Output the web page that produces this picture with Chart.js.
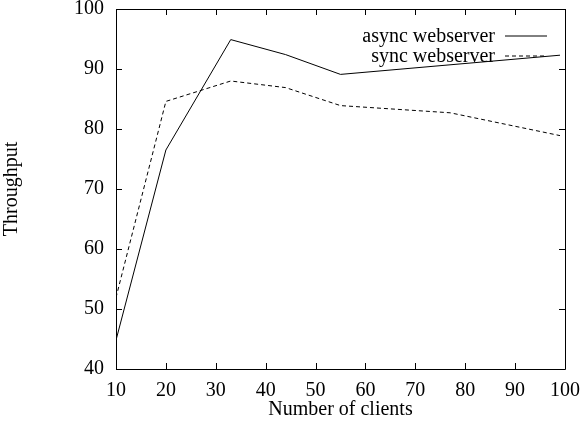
<!DOCTYPE html>
<html>
<head>
<meta charset="UTF-8">
<title>Throughput vs clients</title>
<script src="https://cdn.jsdelivr.net/npm/chart.js"></script>
<style>
  body { margin: 0; padding: 0; background: #fff; }
  #wrap { width: 581px; height: 425px; position: relative; }
</style>
</head>
<body>
<div id="wrap"><canvas id="graph"></canvas></div>
<script>
// data
const clients = [10, 20, 33, 44, 55, 77, 99];
const asyncThroughput = [44.8, 76.5, 94.9, 92.4, 89.1, null, 92.3];
const syncThroughput = [51.9, 84.6, 88.0, 86.9, 83.9, 82.7, 78.9];
const xTicks = [10, 20, 30, 40, 50, 60, 70, 80, 90, 100];
const yTicks = [40, 50, 60, 70, 80, 90, 100];

const font = { family: '"Liberation Serif", "DejaVu Serif", serif', size: 20 };

function pairs(ys) {
  return clients.map((x, i) => ({ x: x, y: ys[i] }));
}

// gnuplot style key: text right-aligned, line sample to its right
const keyPlugin = {
  id: 'key',
  afterDatasetsDraw(chart) {
    const c = chart.ctx;
    const right = chart.chartArea.right;
    c.save();
    c.font = font.size + 'px ' + font.family;
    c.textAlign = 'right';
    c.textBaseline = 'middle';
    c.fillStyle = '#000';
    chart.data.datasets.forEach((ds, i) => {
      const y = 37 + i * 20;
      c.fillText(ds.label, right - 70, y);
      c.beginPath();
      c.strokeStyle = ds.borderColor;
      c.lineWidth = ds.borderWidth;
      c.setLineDash(ds.borderDash || []);
      c.moveTo(right - 60, y - 1);
      c.lineTo(right - 18, y - 1);
      c.stroke();
    });
    c.restore();
  }
};

// box round the plot with inward tick marks on all four sides
const frameTicks = {
  id: 'frameTicks',
  afterDraw(chart) {
    const c = chart.ctx;
    const a = chart.chartArea;
    const xs = chart.scales.x, ys = chart.scales.y;
    const len = 6;
    c.save();
    c.strokeStyle = '#000';
    c.lineWidth = 1;
    c.beginPath();
    c.rect(Math.round(a.left) + 0.5, Math.round(a.top) + 0.5,
           Math.round(a.right - a.left), Math.round(a.bottom - a.top));
    xTicks.forEach(v => {
      const px = Math.round(xs.getPixelForValue(v)) + 0.5;
      c.moveTo(px, a.bottom); c.lineTo(px, a.bottom - len);
      c.moveTo(px, a.top); c.lineTo(px, a.top + len);
    });
    yTicks.forEach(v => {
      const py = Math.round(ys.getPixelForValue(v)) + 0.5;
      c.moveTo(a.left, py); c.lineTo(a.left + len, py);
      c.moveTo(a.right, py); c.lineTo(a.right - len, py);
    });
    c.stroke();
    c.restore();
  }
};

function noPad(s) {
  s.paddingLeft = 0; s.paddingRight = 0;
  s.paddingTop = 0; s.paddingBottom = 0;
}

new Chart(document.getElementById('graph'), {
  type: 'line',
  data: {
    datasets: [
      {
        label: 'async webserver',
        data: pairs(asyncThroughput),
        borderColor: '#000',
        borderWidth: 1,
        pointRadius: 0,
        fill: false,
        tension: 0,
        spanGaps: true
      },
      {
        label: 'sync webserver',
        data: pairs(syncThroughput),
        borderColor: '#000',
        borderWidth: 1,
        borderDash: [4, 3],
        pointRadius: 0,
        fill: false,
        tension: 0
      }
    ]
  },
  options: {
    animation: false,
    responsive: true,
    maintainAspectRatio: false,
    layout: { padding: { top: 9, right: 16, left: 0, bottom: 0 } },
    scales: {
      x: {
        type: 'linear',
        min: 10,
        max: 100,
        afterBuildTicks: s => { s.ticks = xTicks.map(v => ({ value: v })); },
        grid: { display: false, drawTicks: false },
        border: { display: false },
        ticks: { color: '#000', font: font, padding: 10, maxRotation: 0 },
        title: { display: true, text: 'Number of clients', color: '#000', font: font, padding: { top: 0, bottom: 3 } },
        afterFit: s => { s.height = 56; noPad(s); }
      },
      y: {
        type: 'linear',
        min: 40,
        max: 100,
        afterBuildTicks: s => { s.ticks = yTicks.map(v => ({ value: v })); },
        grid: { display: false, drawTicks: false },
        border: { display: false },
        ticks: { color: '#000', font: font, padding: 12 },
        title: { display: true, text: 'Throughput', color: '#000', font: font, padding: 0 },
        afterFit: s => { s.width = 116; noPad(s); }
      }
    },
    plugins: {
      legend: { display: false },
      tooltip: { enabled: false }
    }
  },
  plugins: [keyPlugin, frameTicks]
});
</script>
</body>
</html>
